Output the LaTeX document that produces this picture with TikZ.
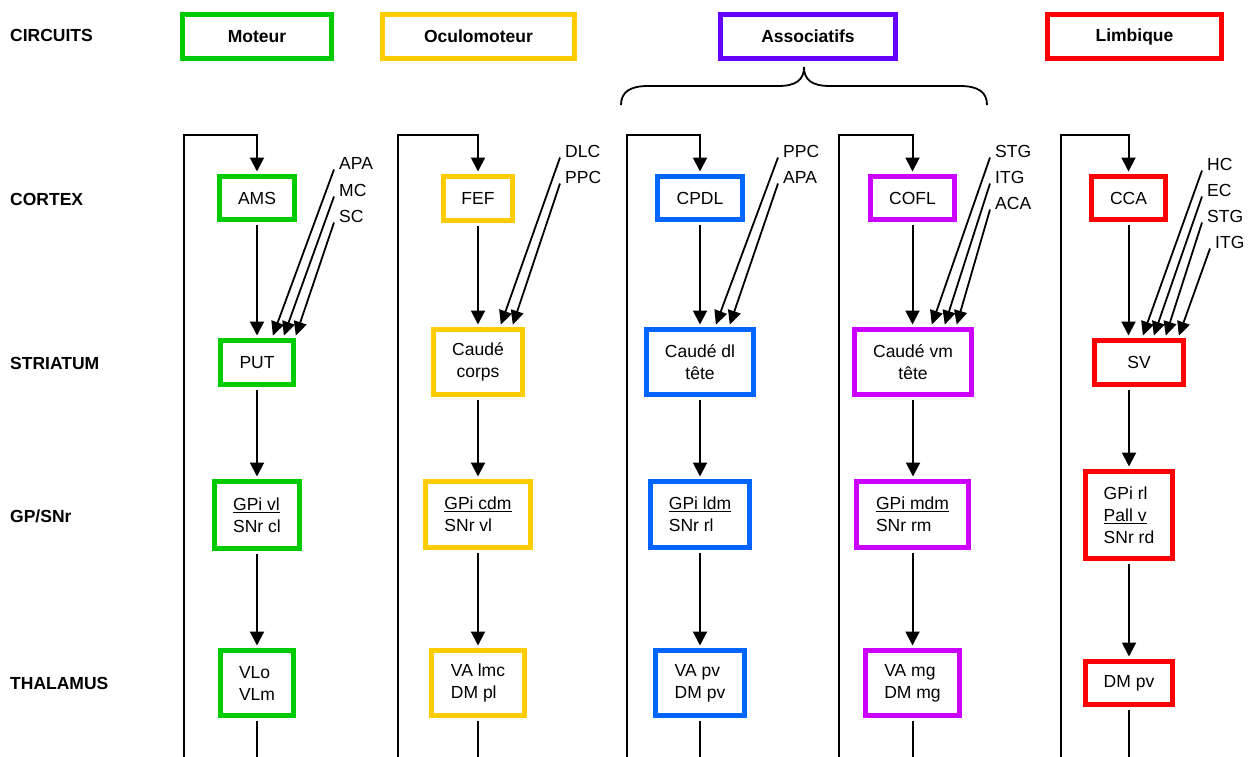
\documentclass[tikz,border=0pt]{standalone}
\usepackage{fontspec}
\setmainfont{Liberation Sans}
\usetikzlibrary{arrows.meta,calc}
\definecolor{cgreen}{RGB}{0,204,0}
\definecolor{cyellow}{RGB}{255,204,0}
\definecolor{cviolet}{RGB}{102,0,255}
\definecolor{cblue}{RGB}{0,102,255}
\definecolor{cmag}{RGB}{204,0,255}
\definecolor{cred}{RGB}{255,0,0}
\begin{document}
\begin{tikzpicture}[x=1pt,y=-1pt,
  box/.style={draw=#1, line width=5pt, inner sep=0pt, fill=white,
    font=\fontsize{17.5}{22}\selectfont},
  hbox/.style={box=#1, font=\bfseries\fontsize{17.5}{22}\selectfont,
    minimum height=44pt},
  lab/.style={anchor=west, inner sep=0pt, font=\bfseries\fontsize{17.5}{22}\selectfont},
  inp/.style={anchor=west, inner sep=0pt, text height=12.6pt, text depth=0pt,
    font=\fontsize{17.5}{22}\selectfont},
  arr/.style={-{Triangle[length=14pt,width=14pt]}, line width=2pt,
    shorten >=2.5pt, shorten <=2.5pt},
  sarr/.style={-{Triangle[length=14pt,width=13pt]}, line width=1.8pt,
    shorten >=2.5pt}
]
\useasboundingbox (0,0) rectangle (1255,756);

% row labels
\node[lab] (lcirc) at (10,35) {CIRCUITS};
\node[lab] (lcort) at (10,199) {CORTEX};
\node[lab] (lstri) at (10,363) {STRIATUM};
\node[lab] (lgp) at (10,516) {GP/SNr};
\node[lab] (lthal) at (10,683) {THALAMUS};

% circuit headers
\node[hbox=cgreen, minimum width=149pt] (hmot) at (257,36.5) {Moteur};
\node[hbox=cyellow, minimum width=192pt] (hocu) at (478.5,36.5) {Oculomoteur};
\node[hbox=cviolet, minimum width=175pt] (hass) at (808,36.5) {Associatifs};
\node[hbox=cred, minimum width=174pt] (hlim) at (1134.5,36.5) {Limbique};

% brace
\draw[line width=1.8pt] (621,105) .. controls (621,92) and (630,86) .. (648,86)
  -- (778,86) .. controls (796,86) and (804,80) .. (804,67)
  .. controls (804,80) and (812,86) .. (830,86)
  -- (960,86) .. controls (978,86) and (987,92) .. (987,105);

% column 1 : moteur
\node[box=cgreen, minimum width=75pt, minimum height=43pt] (AMS) at (257,198) {AMS};
\node[box=cgreen, minimum width=73pt, minimum height=44pt] (PUT) at (257,362.5) {PUT};
\node[box=cgreen, minimum width=85pt, minimum height=67pt, align=left] (GPivl) at (257,515) {\underline{GPi vl}\\SNr cl};
\node[box=cgreen, minimum width=73pt, minimum height=65pt, align=left] (VLo) at (257,683) {VLo\\VLm};

% column 2 : oculomoteur
\node[box=cyellow, minimum width=69pt, minimum height=44pt] (FEF) at (478,198.5) {FEF};
\node[box=cyellow, minimum width=89pt, minimum height=65pt, align=center] (Ccorps) at (478,362) {Caudé\\corps};
\node[box=cyellow, minimum width=105pt, minimum height=66pt, align=left] (GPicdm) at (478,514.5) {\underline{GPi cdm}\\SNr vl};
\node[box=cyellow, minimum width=93pt, minimum height=65pt, align=left] (VAlmc) at (478,683) {VA lmc\\DM pl};

% column 3 : associatif dl
\node[box=cblue, minimum width=85pt, minimum height=43pt] (CPDL) at (700,198) {CPDL};
\node[box=cblue, minimum width=107pt, minimum height=65pt, align=center] (Cdl) at (700,362) {Caudé dl\\tête};
\node[box=cblue, minimum width=99pt, minimum height=66pt, align=left] (GPildm) at (700,514.5) {\underline{GPi ldm}\\SNr rl};
\node[box=cblue, minimum width=89pt, minimum height=65pt, align=left] (VApv) at (700,683) {VA pv\\DM pv};

% column 4 : associatif vm
\node[box=cmag, minimum width=84pt, minimum height=43pt] (COFL) at (912.5,198) {COFL};
\node[box=cmag, minimum width=117pt, minimum height=65pt, align=center] (Cvm) at (913,362) {Caudé vm\\tête};
\node[box=cmag, minimum width=112pt, minimum height=66pt, align=left] (GPimdm) at (912.5,514.5) {\underline{GPi mdm}\\SNr rm};
\node[box=cmag, minimum width=94pt, minimum height=65pt, align=left] (VAmg) at (912.5,683) {VA mg\\DM mg};

% column 5 : limbique
\node[box=cred, minimum width=74pt, minimum height=43pt] (CCA) at (1128.5,198) {CCA};
\node[box=cred, minimum width=89pt, minimum height=44pt] (SV) at (1139,362.5) {SV};
\node[box=cred, minimum width=87pt, minimum height=87pt, align=left] (GPirl) at (1129,515) {GPi rl\\\underline{Pall v}\\SNr rd};
\node[box=cred, minimum width=87pt, minimum height=43pt] (DMpv) at (1129,683) {DM pv};

% vertical chains
\foreach \a/\b in {AMS/PUT,PUT/GPivl,GPivl/VLo,FEF/Ccorps,Ccorps/GPicdm,GPicdm/VAlmc,
  CPDL/Cdl,Cdl/GPildm,GPildm/VApv,COFL/Cvm,Cvm/GPimdm,GPimdm/VAmg,
  CCA/SV,GPirl/DMpv}
  \draw[arr] (\a.south) -- (\a.south |- \b.north);
\draw[arr] (SV.south -| GPirl.north) -- (GPirl.north);

% loops (bottom run lies just below the lower edge of the picture)
\begin{scope}
\clip (0,0) rectangle (1255,756);
\coordinate (b1) at (184,757.6); \coordinate (t1) at (184,135);
\coordinate (b2) at (398,757.6); \coordinate (t2) at (398,135);
\coordinate (b3) at (627,757.6); \coordinate (t3) at (627,135);
\coordinate (b4) at (839,757.6); \coordinate (t4) at (839,135);
\coordinate (b5) at (1061,757.6); \coordinate (t5) at (1061,135);
\draw[arr] (VLo.south) |- (b1) -- (t1) -| (AMS.north);
\draw[arr] (VAlmc.south) |- (b2) -- (t2) -| (FEF.north);
\draw[arr] (VApv.south) |- (b3) -- (t3) -| (CPDL.north);
\draw[arr] (VAmg.south) |- (b4) -- (t4) -| (COFL.north);
\draw[arr] (DMpv.south) |- (b5) -- (t5) -| (CCA.north);
\end{scope}

% cortical inputs
\node[inp] (i1a) at (339,163) {APA};
\node[inp] (i1b) at (339,190) {MC};
\node[inp] (i1c) at (339,216) {SC};
\node[inp] (i2a) at (565,151) {DLC};
\node[inp] (i2b) at (565,177) {PPC};
\node[inp] (i3a) at (783,151) {PPC};
\node[inp] (i3b) at (783,177) {APA};
\node[inp] (i4a) at (995,151) {STG};
\node[inp] (i4b) at (995,177) {ITG};
\node[inp] (i4c) at (995,203) {ACA};
\node[inp] (i5a) at (1207,164) {HC};
\node[inp] (i5b) at (1207,190) {EC};
\node[inp] (i5c) at (1207,216) {STG};
\node[inp] (i5d) at (1215,242) {ITG};

\foreach \s/\t/\d in {i1a/PUT/15,i1b/PUT/26,i1c/PUT/38,
  i2a/Ccorps/22,i2b/Ccorps/34,
  i3a/Cdl/15,i3b/Cdl/29,
  i4a/Cvm/18,i4b/Cvm/31,i4c/Cvm/43,
  i5a/SV/3,i5b/SV/14,i5c/SV/26,i5d/SV/39}
  \draw[sarr] ([xshift=-5pt]\s.south west) -- ([xshift=\d pt]\t.north);
\end{tikzpicture}
\end{document}
